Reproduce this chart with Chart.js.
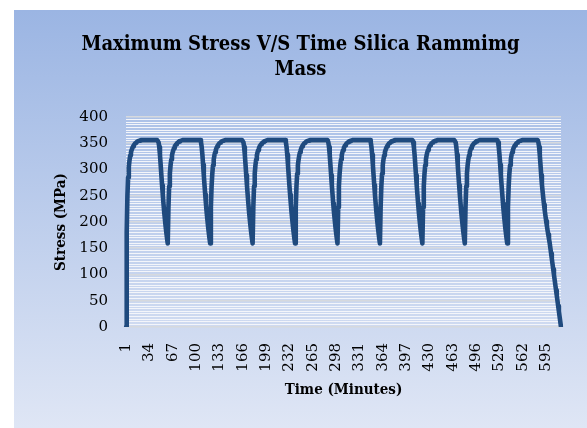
<!DOCTYPE html>
<html>
<head>
<meta charset="utf-8">
<title>Maximum Stress V/S Time Silica Rammimg Mass</title>
<script src="https://cdn.jsdelivr.net/npm/chart.js@4/dist/chart.umd.min.js"></script>
<style>
  html, body { margin: 0; padding: 0; background: #fff; }
  #chart { display: block; }
</style>
</head>
<body>
<canvas id="chart" width="587" height="428"></canvas>
<script>
// stress (MPa), one array per loading cycle
const stressCycle1 = [
  0, 180, 250, 285, 305, 318, 327, 333, 337, 341, 344, 346, 348, 350, 351, 352, 353, 354, 354, 355, 355,
  356, 356, 356, 356, 356, 356, 356, 356, 356, 356, 356, 356,
  356, 356, 356, 356, 356, 356, 356, 356, 356, 356, 356, 356,
  356, 352, 343, 328, 309, 289, 270, 252, 235, 219, 205, 192, 180, 169
];
const stressCycle2 = [
  159, 228, 268, 292, 308, 319, 327, 333, 337, 341, 344, 346, 348, 350, 351, 352, 353, 354, 354, 355, 355,
  356, 356, 356, 356, 356, 356, 356, 356, 356, 356, 356, 356, 356,
  356, 356, 356, 356, 356, 356, 356, 356, 356, 356, 356, 356,
  356, 352, 343, 328, 309, 289, 270, 252, 235, 219, 205, 192, 180, 169
];
const stressCycle3 = [
  159, 228, 268, 292, 308, 319, 327, 333, 337, 341, 344, 346, 348, 350, 351, 352, 353, 354, 354, 355, 355,
  356, 356, 356, 356, 356, 356, 356, 356, 356, 356, 356, 356, 356,
  356, 356, 356, 356, 356, 356, 356, 356, 356, 356, 356, 356,
  356, 352, 343, 328, 309, 289, 270, 252, 235, 219, 205, 192, 180, 169
];
const stressCycle4 = [
  159, 228, 268, 292, 308, 319, 327, 333, 337, 341, 344, 346, 348, 350, 351, 352, 353, 354, 354, 355, 355,
  356, 356, 356, 356, 356, 356, 356, 356, 356, 356, 356, 356, 356,
  356, 356, 356, 356, 356, 356, 356, 356, 356, 356, 356, 356,
  356, 352, 343, 328, 309, 289, 270, 252, 235, 219, 205, 192, 180, 169
];
const stressCycle5 = [
  159, 228, 268, 292, 308, 319, 327, 333, 337, 341, 344, 346, 348, 350, 351, 352, 353, 354, 354, 355, 355,
  356, 356, 356, 356, 356, 356, 356, 356, 356, 356, 356, 356, 356,
  356, 356, 356, 356, 356, 356, 356, 356, 356, 356, 356, 356,
  356, 352, 343, 328, 309, 289, 270, 252, 235, 219, 205, 192, 180, 169
];
const stressCycle6 = [
  159, 228, 268, 292, 308, 319, 327, 333, 337, 341, 344, 346, 348, 350, 351, 352, 353, 354, 354, 355, 355,
  356, 356, 356, 356, 356, 356, 356, 356, 356, 356, 356, 356, 356,
  356, 356, 356, 356, 356, 356, 356, 356, 356, 356, 356, 356,
  356, 352, 343, 328, 309, 289, 270, 252, 235, 219, 205, 192, 180, 169
];
const stressCycle7 = [
  159, 228, 268, 292, 308, 319, 327, 333, 337, 341, 344, 346, 348, 350, 351, 352, 353, 354, 354, 355, 355,
  356, 356, 356, 356, 356, 356, 356, 356, 356, 356, 356, 356, 356,
  356, 356, 356, 356, 356, 356, 356, 356, 356, 356, 356, 356,
  356, 352, 343, 328, 309, 289, 270, 252, 235, 219, 205, 192, 180, 169
];
const stressCycle8 = [
  159, 228, 268, 292, 308, 319, 327, 333, 337, 341, 344, 346, 348, 350, 351, 352, 353, 354, 354, 355, 355,
  356, 356, 356, 356, 356, 356, 356, 356, 356, 356, 356, 356, 356,
  356, 356, 356, 356, 356, 356, 356, 356, 356, 356, 356, 356,
  356, 352, 343, 328, 309, 289, 270, 252, 235, 219, 205, 192, 180, 169
];
const stressCycle9 = [
  159, 228, 268, 292, 308, 319, 327, 333, 337, 341, 344, 346, 348, 350, 351, 352, 353, 354, 354, 355, 355,
  356, 356, 356, 356, 356, 356, 356, 356, 356, 356, 356, 356, 356,
  356, 356, 356, 356, 356, 356, 356, 356, 356, 356, 356, 356,
  356, 352, 343, 328, 309, 289, 270, 252, 235, 219, 205, 192, 180, 169
];
// last cycle, then unloading to zero
const stressCycle10 = [
  159, 228, 268, 292, 308, 319, 327, 333, 337, 341, 344, 346, 348, 350, 351, 352, 353, 354, 354, 355, 355,
  356, 356, 356, 356, 356, 356, 356, 356, 356, 356, 356,
  356, 356, 356, 356, 356, 356, 356, 356, 356, 356, 356,
  356, 352, 343, 328, 309, 289, 272, 258, 245, 233, 222, 212, 202, 193, 184, 176, 168, 160,
  150, 140, 130, 120, 110, 100, 90, 80, 70, 60, 50, 40, 30, 20, 10, 0
];

const stress = [].concat(
  stressCycle1, stressCycle2, stressCycle3, stressCycle4, stressCycle5,
  stressCycle6, stressCycle7, stressCycle8, stressCycle9, stressCycle10
);
// time in minutes, one reading per minute
const minutes = stress.map((v, i) => i + 1);

const xTickLabels = [1, 34, 67, 100, 133, 166, 199, 232, 265, 298, 331, 364, 397, 430, 463, 496, 529, 562, 595];
const yTickLabels = [0, 50, 100, 150, 200, 250, 300, 350, 400];

const titleFont = "'DejaVu Serif Condensed', 'DejaVu Serif', serif";
const tickFont = "'DejaVu Serif', serif";

const backgroundFill = {
  id: 'backgroundFill',
  beforeDraw(chart) {
    const { ctx, width, height } = chart;
    ctx.save();
    ctx.fillStyle = '#ffffff';
    ctx.fillRect(0, 0, width, height);
    const grad = ctx.createLinearGradient(0, 10, 0, height);
    grad.addColorStop(0, '#9bb5e3');
    grad.addColorStop(1, '#dfe6f5');
    ctx.fillStyle = grad;
    ctx.fillRect(14, 10, width - 14, height - 10);
    ctx.restore();
  }
};

const ctx = document.getElementById('chart').getContext('2d');
new Chart(ctx, {
  type: 'line',
  data: {
    labels: minutes,
    datasets: [{
      label: 'Stress (MPa)',
      data: stress,
      borderColor: '#1f4a7e',
      borderWidth: 4.6,
      pointRadius: 0,
      tension: 0,
      fill: false,
      borderJoinStyle: 'round',
      borderCapStyle: 'round'
    }]
  },
  options: {
    responsive: false,
    animation: false,
    layout: { padding: { left: 14, right: 0, top: 10, bottom: 0 } },
    plugins: {
      legend: { display: false },
      tooltip: { enabled: false },
      title: {
        display: true,
        text: ['Maximum Stress V/S Time Silica Rammimg', 'Mass'],
        color: '#000',
        font: { family: titleFont, size: 20, weight: 'bold', lineHeight: 1.25 },
        padding: { top: 22, bottom: 35 }
      }
    },
    scales: {
      x: {
        grid: { display: false },
        border: { display: false },
        ticks: {
          autoSkip: false,
          minRotation: 90,
          maxRotation: 90,
          padding: 8,
          color: '#000',
          font: { family: tickFont, size: 15 },
          callback(value, index) {
            const m = minutes[index];
            return xTickLabels.includes(m) ? String(m) : null;
          }
        },
        title: {
          display: true,
          text: 'Time (Minutes)',
          color: '#000',
          font: { family: titleFont, size: 15, weight: 'bold' },
          padding: { top: 4, bottom: 29 }
        },
        afterFit(scale) { scale.height = 101; }
      },
      y: {
        min: 0,
        max: 400,
        border: { display: false },
        grid: {
          drawTicks: false,
          color: (c) => (c.tick && c.tick.value % 50 === 0 ? '#d6d9de' : '#f3f5fa'),
          lineWidth: (c) => (c.tick && c.tick.value % 50 === 0 ? 1.6 : 1)
        },
        ticks: {
          stepSize: 5,
          maxTicksLimit: 100,
          autoSkip: false,
          padding: 18,
          color: '#000',
          font: { family: tickFont, size: 15 },
          callback(value) {
            return yTickLabels.includes(value) ? String(value) : '';
          }
        },
        title: {
          display: true,
          text: 'Stress (MPa)',
          color: '#000',
          font: { family: titleFont, size: 15, weight: 'bold' },
          padding: { top: 38, bottom: 0 }
        },
        afterFit(scale) { scale.width = 112; }
      },
      // empty strip on the right so the plot ends where the picture's does
      rightGap: {
        position: 'right',
        display: true,
        grid: { display: false },
        border: { display: false },
        ticks: { display: false },
        afterFit(scale) { scale.width = 26; }
      }
    }
  },
  plugins: [backgroundFill]
});
</script>
</body>
</html>
